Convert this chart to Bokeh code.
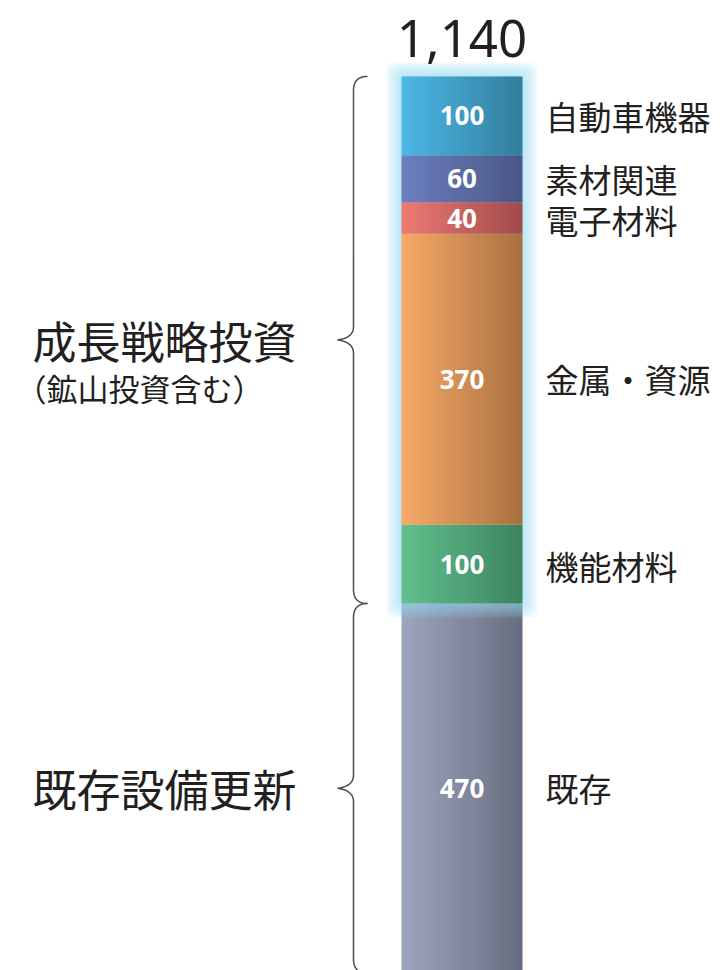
import numpy as np
from bokeh.plotting import figure
from bokeh.models import Range1d, ColumnDataSource
from bokeh.core.properties import value
from bokeh.embed import file_html
from bokeh.resources import INLINE

# ---------------- data ----------------
categories = ["既存", "機能材料", "金属・資源", "電子材料", "素材関連", "自動車機器"]
values = [470, 100, 370, 40, 60, 100]
value_labels = ["470", "100", "370", "40", "60", "100"]
total_label = "1,140"
color_left = ["#9ea6bf", "#62c18e", "#f8aa68", "#ee7a74", "#6c7fc0", "#4db8e8"]
color_right = ["#676d80", "#3c835f", "#a87040", "#a04a4a", "#4a5685", "#327d9b"]
group_names = ["既存設備更新", "成長戦略投資"]
group_sub = ["", "（鉱山投資含む）"]
group_members = [[0], [1, 2, 3, 4, 5]]

# ---------------- layout ----------------
W, H = 724, 970
Y0, Y1 = 3.4, 1236.6
ppu = H / (Y1 - Y0)          # pixels per data unit
BAR_L, BAR_R = 401, 522
BAR_C = (BAR_L + BAR_R) / 2
TXT = "#231f20"

vals = np.array(values, dtype=float)
tops = np.cumsum(vals)
bottoms = tops - vals
centers = (tops + bottoms) / 2
total = tops[-1]

p = figure(width=W, height=H, x_range=Range1d(0, W), y_range=Range1d(Y0, Y1),
           output_backend="svg", toolbar_location=None, min_border=0,
           x_axis_location=None, y_axis_location=None)
p.grid.visible = False
p.outline_line_color = None
p.background_fill_color = "white"
p.border_fill_color = "white"


def hex2rgb(h):
    h = h.lstrip("#")
    return np.array([int(h[i:i + 2], 16) for i in (0, 2, 4)], dtype=float)


def rgb2hex(c):
    return "#%02x%02x%02x" % tuple(int(round(v)) for v in c)


def gradient_slices(idx_list, n=40):
    L, R, B, T, C = [], [], [], [], []
    w = (BAR_R - BAR_L) / n
    for i in idx_list:
        c0, c1 = hex2rgb(color_left[i]), hex2rgb(color_right[i])
        for k in range(n):
            t = (k + 0.5) / n
            l = BAR_L + k * w
            r = min(l + w + 0.7, BAR_R)
            L.append(l); R.append(r); B.append(bottoms[i]); T.append(tops[i])
            C.append(rgb2hex(c0 + (c1 - c0) * t))
    return ColumnDataSource(dict(left=L, right=R, bottom=B, top=T, color=C))


# existing segment first (glow spills over it)
p.quad(left="left", right="right", bottom="bottom", top="top", fill_color="color",
       line_color=None, source=gradient_slices(group_members[0]))

# glow around growth segments
g_lo = bottoms[group_members[1][0]]
g_hi = tops[group_members[1][-1]]
ds = np.arange(1.5, 16.5, 1.5)
p.quad(left=BAR_L - ds, right=BAR_R + ds, bottom=g_lo - ds / ppu, top=g_hi + ds / ppu,
       fill_color="#9adcf8", fill_alpha=0.085, line_color=None, border_radius=8)

# growth segments
p.quad(left="left", right="right", bottom="bottom", top="top", fill_color="color",
       line_color=None, source=gradient_slices(group_members[1]))

# value labels inside bar
p.text(x=[BAR_C] * len(vals), y=centers, text=value_labels,
       text_font=value("Open Sans"), text_font_style="bold", text_font_size="26px",
       text_color="white", text_align="center", text_baseline="middle")

# category labels right
p.text(x=[545] * len(vals), y=centers + np.array([0, -2, 0, -2, 0, 0]) / ppu, text=categories,
       text_font=value("Noto Sans CJK JP"), text_font_size="33px",
       text_color=TXT, text_align="left", text_baseline="middle")

# total
p.text(x=[BAR_C], y=[total + 38 / ppu], text=[total_label],
       text_font=value("Noto Sans"), text_font_size="51px",
       text_color=TXT, text_align="center", text_baseline="alphabetic")


# braces
def qbez(p0, p1, p2, n=14):
    t = np.linspace(0, 1, n)[:, None]
    a, b, c = np.array(p0), np.array(p1), np.array(p2)
    return (1 - t) ** 2 * a + 2 * (1 - t) * t * b + t ** 2 * c


def brace(ytop, ybot, x_line=353, x_tip=337, x_end=367, r_px=14):
    r = r_px / ppu
    ymid = (ytop + ybot) / 2
    segs = [
        qbez((x_end, ytop), (x_line, ytop), (x_line, ytop - r)),
        np.array([[x_line, ymid + r]]),
        qbez((x_line, ymid + r), (x_line + 0.5, ymid + 0.15 * r), (x_tip, ymid)),
        qbez((x_tip, ymid), (x_line + 0.5, ymid - 0.15 * r), (x_line, ymid - r)),
        np.array([[x_line, ybot + r]]),
        qbez((x_line, ybot + r), (x_line, ybot), (x_end, ybot)),
    ]
    pts = np.vstack(segs)
    return pts[:, 0], pts[:, 1], ymid


for gi, members in enumerate(group_members):
    lo = bottoms[members[0]]
    hi = tops[members[-1]]
    bx, by, ymid = brace(hi, lo)
    p.line(bx, by, line_color="#4d4d4d", line_width=1.5)
    p.text(x=[32], y=[ymid], text=[group_names[gi]], text_font=value("Noto Sans CJK JP"),
           text_font_size="44px", text_color=TXT, text_align="left", text_baseline="middle")
    if group_sub[gi]:
        p.text(x=[15], y=[ymid - 48 / ppu], text=[group_sub[gi]], text_font=value("Noto Sans CJK JP"),
               text_font_size="31px", text_color=TXT, text_align="left", text_baseline="middle")

open("out.html", "w").write(file_html(p, INLINE))
